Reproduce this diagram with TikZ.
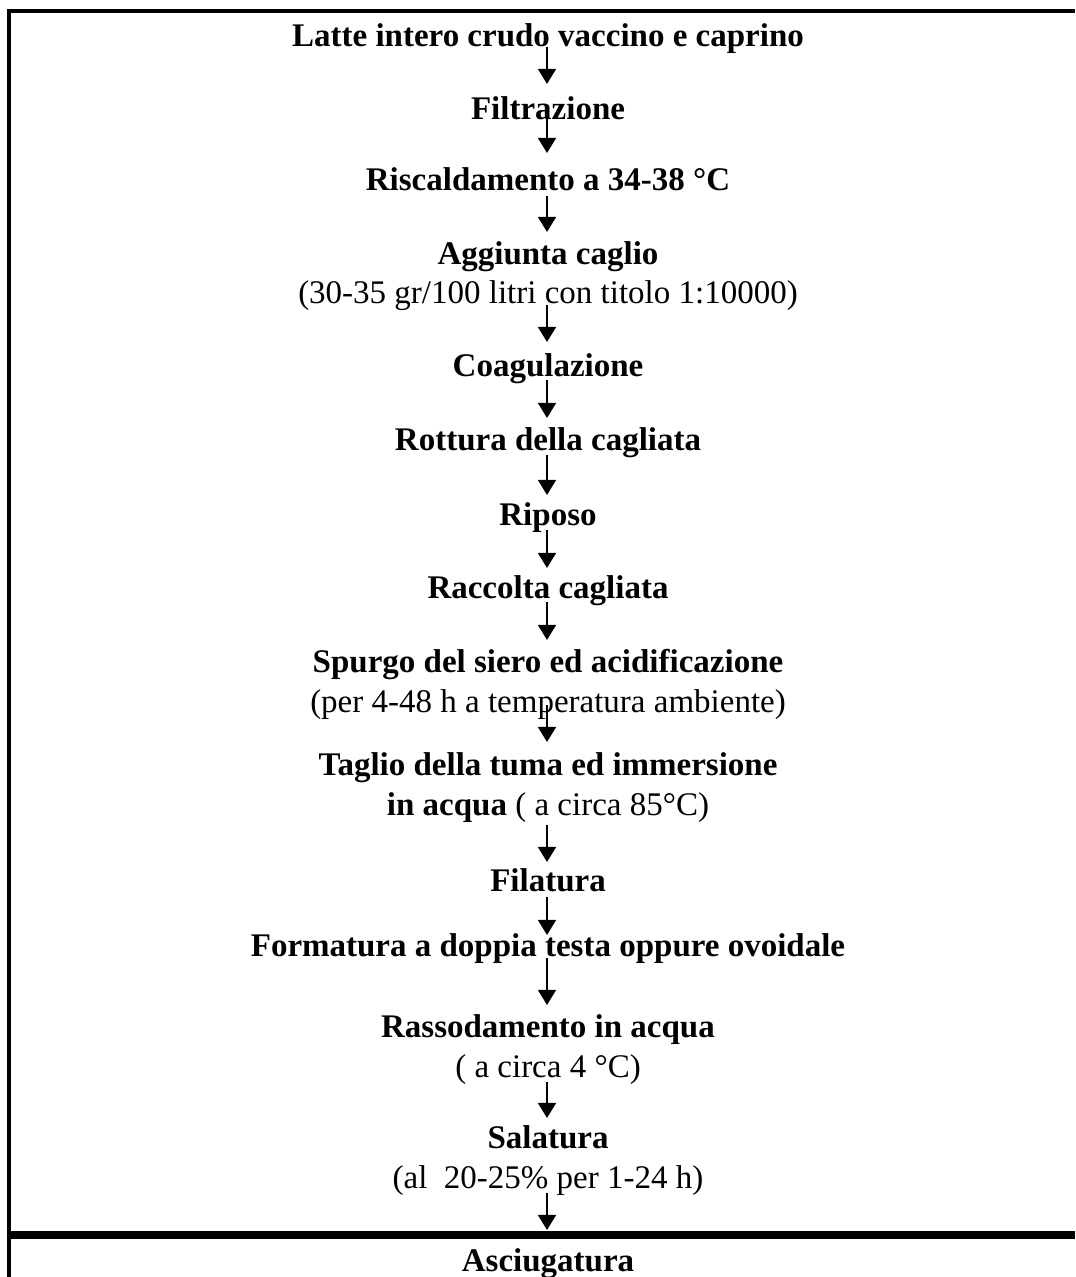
\documentclass[tikz,border=0pt]{standalone}
\usepackage{fontspec}
\setmainfont{Liberation Serif}
\usepackage{tikz}
\usetikzlibrary{shapes,arrows.meta}

\begin{document}
\begin{tikzpicture}[x=0.36364pt, y=-0.36364pt,
  every node/.style = {align=center, inner sep=0pt, anchor=base,
    font=\fontsize{12}{14.2}\selectfont},
  flow/.style = {-{Triangle[length=5.5pt,width=6.5pt]}, line width=0.8pt},
  frame/.style = {line width=1.45pt}]
  \useasboundingbox (0,0) rectangle (1075,1277);
  % cornice della tabella
  \draw[frame] (1075,11) -- (9,11) -- (9,1277);
  \draw[line width=2.9pt] (9,1235) -- (1075,1235);
  % fasi (base = ultima riga)
  \node (latte)  at (548,47)   {\textbf{Latte intero crudo vaccino e caprino}};
  \node (filtr)  at (548,120)  {\textbf{Filtrazione}};
  \node (risc)   at (548,191)  {\textbf{Riscaldamento a 34-38 °C}};
  \node (caglio) at (548,304)  {\textbf{Aggiunta caglio}\\(30-35 gr/100 litri con titolo 1:10000)};
  \node (coag)   at (548,377)  {\textbf{Coagulazione}};
  \node (rott)   at (548,450)  {\textbf{Rottura della cagliata}};
  \node (riposo) at (548,525)  {\textbf{Riposo}};
  \node (racc)   at (548,598)  {\textbf{Raccolta cagliata}};
  \node (spurgo) at (548,712)  {\textbf{Spurgo del siero ed acidificazione}\\(per 4-48 h a temperatura ambiente)};
  \node (taglio) at (548,815)  {\textbf{Taglio della tuma ed immersione}\\\textbf{in acqua} ( a circa 85°C)};
  \node (filat)  at (548,891)  {\textbf{Filatura}};
  \node (form)   at (548,956)  {\textbf{Formatura a doppia testa oppure ovoidale}};
  \node (rass)   at (548,1077) {\textbf{Rassodamento in acqua}\\( a circa 4 °C)};
  \node (sal)    at (548,1188) {\textbf{Salatura}\\(al\ \ 20-25\% per 1-24 h)};
  \node (asciug) at (548,1271) {\textbf{Asciugatura}};
  % frecce
  \foreach \s/\e [count=\i] in {47/84, 108/153, 196/232, 305/342, 380/418,
      455/495, 530/568, 602/640, 705/742, 825/862, 897/935, 958/1005,
      1082/1118, 1193/1230} {
    \coordinate (s\i) at (547,\s);
    \coordinate (e\i) at (547,\e);
    \draw[flow] (s\i) -- (e\i);
  }
\end{tikzpicture}
\end{document}
